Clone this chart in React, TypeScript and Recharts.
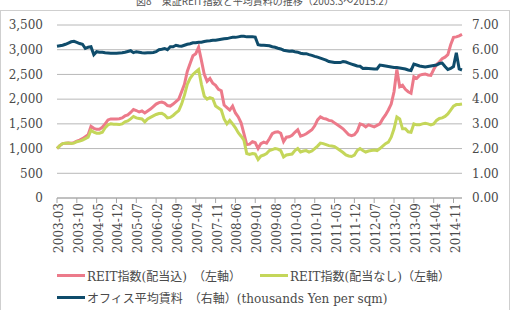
import { LineChart, Line, XAxis, YAxis, CartesianGrid, Legend } from "recharts";

// monthly, 2003-03 .. 2015-02
const months: string[] = [];
for (let i = 0; i < 144; i++) {
  const m = 2 + i; // 0-based month offset from Jan 2003
  const y = 2003 + Math.floor(m / 12);
  const mm = (m % 12) + 1;
  months.push(`${y}-${String(mm).padStart(2, "0")}`);
}

// REIT指数(配当込) 左軸
const reitWithDiv = [
  1000, 1060, 1100, 1110, 1115, 1110, 1120, 1150, 1170, 1200, 1240, 1280,
  1450, 1410, 1390, 1390, 1430, 1500, 1580, 1600, 1600, 1600, 1605, 1620,
  1660, 1680, 1730, 1790, 1770, 1740, 1760, 1720, 1760, 1800, 1850, 1900,
  1930, 1940, 1920, 1870, 1860, 1900, 1950, 2000, 2150, 2300, 2560, 2720,
  2880, 2920, 3050, 2780, 2500, 2360, 2420, 2320, 2280, 2200, 2170, 1880,
  1830, 1780, 1860, 1720, 1640, 1520, 1300, 1080, 1090, 1140, 1120, 1000,
  1100, 1130, 1110, 1200, 1300, 1330, 1340, 1310, 1140, 1230, 1240, 1270,
  1330, 1380, 1250, 1270, 1300, 1340, 1380, 1460, 1580, 1640, 1610, 1600,
  1570, 1560, 1520, 1480, 1440, 1400, 1340, 1280, 1260, 1280, 1350, 1500,
  1480, 1440, 1480, 1460, 1440, 1470, 1500, 1600, 1680, 1780, 1900, 2150,
  2600, 2250, 2280, 2200, 2150, 2120, 2450, 2420, 2480, 2500, 2510, 2490,
  2480, 2600, 2700, 2750, 2820, 2850, 2900, 3100, 3250, 3260, 3280, 3310,
];

// REIT指数(配当なし) 左軸
const reitNoDiv = [
  1000, 1060, 1100, 1110, 1115, 1105, 1110, 1140, 1150, 1170, 1200, 1230,
  1370, 1330, 1310, 1310, 1330, 1420, 1480, 1500, 1490, 1490, 1485, 1500,
  1540, 1560, 1600, 1650, 1620, 1610, 1600, 1540, 1600, 1630, 1660, 1690,
  1710, 1715, 1680, 1620, 1630, 1670, 1720, 1770, 1900, 2080, 2300, 2420,
  2500, 2550, 2600, 2300, 2060, 2000, 2030, 2010, 1860, 1820, 1780, 1600,
  1500, 1570, 1500, 1420, 1320, 1250, 1170, 900, 880, 900, 890, 780,
  850, 870, 900, 960, 980, 1000, 990, 960, 830, 870, 880, 890,
  960, 1000, 930, 950, 960, 930, 950, 1000, 1050, 1110, 1100, 1080,
  1060, 1050, 1040, 1000, 960, 920, 870, 850, 840, 870, 960, 1000,
  960, 930, 950, 960, 970, 960, 1000, 1050, 1100, 1130, 1230, 1400,
  1640, 1600, 1400, 1400, 1340, 1330, 1500, 1480, 1480, 1500, 1510, 1500,
  1480, 1500, 1570, 1610, 1620, 1650, 1700, 1780, 1860, 1890, 1890, 1900,
];

// オフィス平均賃料 右軸 (thousands Yen per sqm)
const officeRent = [
  6.14, 6.16, 6.18, 6.22, 6.27, 6.32, 6.34, 6.3, 6.25, 6.22, 6.05, 6.1,
  6.12, 5.8, 5.92, 5.9, 5.9, 5.88, 5.87, 5.86, 5.86, 5.86, 5.87, 5.88,
  5.9, 5.93, 5.96, 5.88, 5.92, 5.9, 5.88, 5.87, 5.88, 5.88, 5.89, 5.92,
  6.0, 6.02, 6.05, 6.0, 6.12, 6.12, 6.18, 6.15, 6.14, 6.18, 6.22, 6.24,
  6.28, 6.28, 6.3, 6.3, 6.33, 6.35, 6.36, 6.38, 6.38, 6.4, 6.42, 6.44,
  6.45, 6.48, 6.5, 6.5, 6.52, 6.54, 6.54, 6.52, 6.52, 6.52, 6.51, 6.2,
  6.18, 6.18, 6.17, 6.16, 6.12, 6.1, 6.06, 6.03, 5.98, 5.96, 5.94, 5.95,
  5.92, 5.9, 5.86, 5.84, 5.84, 5.8, 5.77, 5.73, 5.7, 5.66, 5.62, 5.58,
  5.52, 5.5, 5.48, 5.48, 5.48, 5.52, 5.5, 5.46, 5.42, 5.38, 5.34, 5.33,
  5.24, 5.25, 5.24, 5.23, 5.22, 5.22, 5.38, 5.36, 5.34, 5.32, 5.3, 5.28,
  5.28, 5.26, 5.24, 5.22, 5.18, 5.16, 5.42, 5.38, 5.34, 5.32, 5.3, 5.32,
  5.34, 5.36, 5.38, 5.44, 5.46, 5.32, 5.2, 5.24, 5.32, 5.88, 5.22, 5.18,
];

const leftTicks = [0, 500, 1000, 1500, 2000, 2500, 3000, 3500];
const rightTicks = [0, 1, 2, 3, 4, 5, 6, 7];

const PINK = "#ec7a8a";
const GREEN = "#c4d65a";
const NAVY = "#0f4c6b";
const TEXT = "#4a4a4a";
const FONT = "'DejaVu Serif', 'Noto Sans CJK JP', serif";

const data = months.map((m, i) => ({
  month: m,
  withDiv: reitWithDiv[i],
  noDiv: reitNoDiv[i],
  rent: officeRent[i],
}));

function MonthTick(props: any) {
  const { x, y, payload } = props;
  return (
    <g transform={`translate(${x},${y})`}>
      <text transform="rotate(-90)" x={0} y={6} textAnchor="end" fontSize={12} fill={TEXT}>
        {payload.value}
      </text>
    </g>
  );
}

function LegendItem({ color, label, width }: { color: string; label: string; width?: number }) {
  return (
    <div style={{ display: "flex", alignItems: "center", width }}>
      <span style={{ display: "inline-block", width: 28, height: 3, background: color, marginRight: 2 }} />
      <span style={{ whiteSpace: "pre" }}>{label}</span>
    </div>
  );
}

function LegendBox() {
  return (
    <div style={{ fontFamily: FONT, fontSize: 12, color: TEXT, paddingLeft: 57 }}>
      <div style={{ display: "flex", alignItems: "center", height: 22 }}>
        <LegendItem color={PINK} label="REIT指数(配当込)　（左軸）" width={203} />
        <LegendItem color={GREEN} label="REIT指数(配当なし)（左軸）" />
      </div>
      <div style={{ display: "flex", alignItems: "center", height: 22 }}>
        <LegendItem color={NAVY} label="オフィス平均賃料　（右軸）(thousands Yen per sqm)" />
      </div>
    </div>
  );
}

export default function App() {
  return (
    <div style={{ position: "absolute", left: 0, top: 0, width: 515, height: 310, overflow: "hidden", background: "#fff", fontFamily: FONT }}>
      <div
        style={{
          position: "absolute",
          left: 0,
          top: -7,
          width: 530,
          textAlign: "center",
          fontFamily: "'Noto Sans CJK JP', sans-serif",
          fontSize: 10,
          color: "#555",
          whiteSpace: "nowrap",
        }}
      >
        図8　東証REIT指数と平均賃料の推移（2003.3～2015.2）
      </div>
      <div style={{ position: "absolute", left: 0, top: 10, width: 510, height: 320, border: "1px solid #cfcfcf", boxSizing: "border-box" }} />
      <div style={{ position: "absolute", left: 0, top: 0 }}>
        <LineChart width={515} height={310} data={data} margin={{ top: 25, right: 0, left: 0, bottom: 0 }}>
          <CartesianGrid vertical={false} stroke="#b8b8b8" />
          <XAxis
            dataKey="month"
            interval={6}
            height={112}
            tick={MonthTick}
            tickSize={5}
            tickMargin={0}
            stroke="#a6a6a6"
          />
          <YAxis
            width={57}
            domain={[0, 3500]}
            ticks={leftTicks}
            axisLine={false}
            tickLine={false}
            tickSize={12}
            tickMargin={2}
            tickFormatter={(v: number) => v.toLocaleString("en-US")}
            tick={{ fontSize: 12, fill: TEXT }}
          />
          <YAxis
            yAxisId="right"
            orientation="right"
            width={53}
            domain={[0, 7]}
            ticks={rightTicks}
            axisLine={false}
            tickLine={false}
            tickSize={6}
            tickMargin={4}
            tickFormatter={(v: number) => v.toFixed(2)}
            tick={{ fontSize: 12, fill: TEXT }}
          />
          <Legend
            layout="horizontal"
            verticalAlign="middle"
            align="center"
            wrapperStyle={{ left: 0, top: 264, width: 515 }}
            content={() => <LegendBox />}
          />
          <Line dataKey="withDiv" stroke={PINK} strokeWidth={3} dot={false} isAnimationActive={false} />
          <Line dataKey="noDiv" stroke={GREEN} strokeWidth={3} dot={false} isAnimationActive={false} />
          <Line yAxisId="right" dataKey="rent" stroke={NAVY} strokeWidth={3} dot={false} isAnimationActive={false} />
        </LineChart>
      </div>
    </div>
  );
}
